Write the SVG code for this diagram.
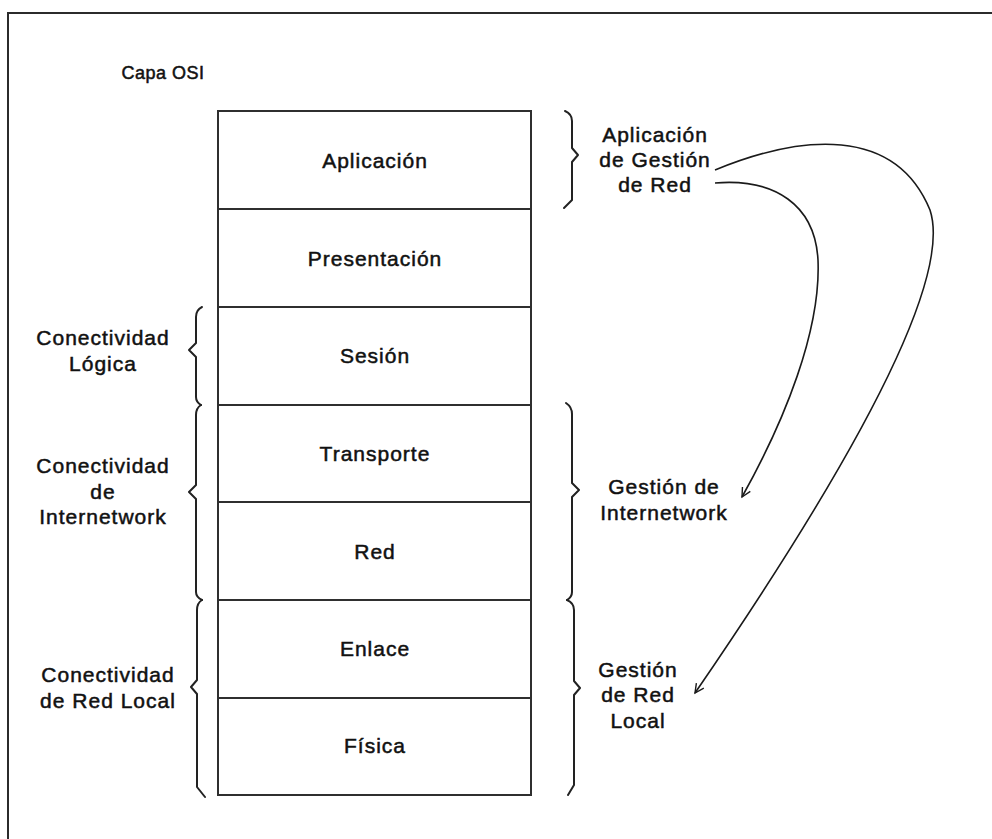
<svg xmlns="http://www.w3.org/2000/svg" width="992" height="839" viewBox="0 0 992 839">
  <style>
    .frame { fill: none; stroke: #2b2b2b; stroke-width: 2; }
    .layer rect { fill: #ffffff; stroke: #2f2f2f; stroke-width: 2; }
    .lbl { font-family: "Liberation Sans", Arial, sans-serif; font-size: 21px; fill: #111; stroke: #111; stroke-width: 0.5; letter-spacing: 1px; text-anchor: middle; }
    .title { font-size: 18px; letter-spacing: 0.5px; }
    .brace { fill: none; stroke: #222; stroke-width: 2; stroke-linejoin: round; stroke-linecap: round; }
    .conn { fill: none; stroke: #1a1a1a; stroke-width: 1.6; }
  </style>
  <defs>
    <marker id="head" viewBox="-10 -6 12 12" markerWidth="12" markerHeight="12" refX="0" refY="0" orient="auto" markerUnits="userSpaceOnUse">
      <path d="M-9,-4.5 L0,0 L-9,4.5" fill="none" stroke="#1a1a1a" stroke-width="1.4"/>
    </marker>
  </defs>
  <rect width="992" height="839" fill="#ffffff"/>

  <!-- outer frame: top and left edges only -->
  <path class="frame" d="M8,839 L8,13 L992,13"/>

  <text class="lbl title" x="163" y="79">Capa OSI</text>

  <!-- OSI stack -->
  <g id="aplicacion" class="layer"><rect x="218" y="111" width="313" height="98"/><text class="lbl" x="375" y="168">Aplicación</text></g>
  <g id="presentacion" class="layer"><rect x="218" y="209" width="313" height="98"/><text class="lbl" x="375" y="266">Presentación</text></g>
  <g id="sesion" class="layer"><rect x="218" y="307" width="313" height="98"/><text class="lbl" x="375" y="363">Sesión</text></g>
  <g id="transporte" class="layer"><rect x="218" y="405" width="313" height="97"/><text class="lbl" x="375" y="461">Transporte</text></g>
  <g id="red" class="layer"><rect x="218" y="502" width="313" height="98"/><text class="lbl" x="375" y="559">Red</text></g>
  <g id="enlace" class="layer"><rect x="218" y="600" width="313" height="98"/><text class="lbl" x="375" y="656">Enlace</text></g>
  <g id="fisica" class="layer"><rect x="218" y="698" width="313" height="97"/><text class="lbl" x="375" y="753">Física</text></g>

  <!-- left-side groupings -->
  <g id="conectividad-logica">
    <path class="brace" d="M202,307 Q196,310 196,317 L196,343 L189,350 L196,357 L196,397 Q196,402 201,405"/>
    <text class="lbl" x="103" y="345">Conectividad</text>
    <text class="lbl" x="103" y="371">Lógica</text>
  </g>
  <g id="conectividad-internetwork">
    <path class="brace" d="M201,405 Q196,408 196,415 L196,485 L189,492 L196,499 L196,592 Q196,597 202,600"/>
    <text class="lbl" x="103" y="473">Conectividad</text>
    <text class="lbl" x="103" y="499">de</text>
    <text class="lbl" x="103" y="524">Internetwork</text>
  </g>
  <g id="conectividad-red-local">
    <path class="brace" d="M202,600 Q197,603 197,610 L197,680 L191,687 L197,694 L197,787 L205,797"/>
    <text class="lbl" x="108" y="682">Conectividad</text>
    <text class="lbl" x="108" y="708">de Red Local</text>
  </g>

  <!-- right-side groupings -->
  <g id="gestion-aplicacion">
    <path class="brace" d="M565,111 Q572,114 572,121 L572,148 L578,155 L572,162 L572,200 L564,208"/>
    <text class="lbl" x="655" y="142">Aplicación</text>
    <text class="lbl" x="655" y="167">de Gestión</text>
    <text class="lbl" x="655" y="192">de Red</text>
  </g>
  <g id="gestion-internetwork">
    <path class="brace" d="M566,403 Q572,407 572,414 L572,483 L579,490 L572,497 L572,592 Q572,597 567,600"/>
    <text class="lbl" x="664" y="494">Gestión de</text>
    <text class="lbl" x="664" y="520">Internetwork</text>
  </g>
  <g id="gestion-red-local">
    <path class="brace" d="M567,600 Q574,603 574,610 L574,681 L580,688 L574,695 L574,785 L568,795"/>
    <text class="lbl" x="638" y="677">Gestión</text>
    <text class="lbl" x="638" y="702">de Red</text>
    <text class="lbl" x="638" y="728">Local</text>
  </g>

  <!-- management links -->
  <g id="connectors">
    <path class="conn" marker-end="url(#head)" d="M715,170 C800,135 895,125 930,210 C958,295 800,540 695,693"/>
    <path class="conn" marker-end="url(#head)" d="M715,183 C775,178 815,205 818,260 C821,330 785,420 742,497"/>
  </g>
</svg>
